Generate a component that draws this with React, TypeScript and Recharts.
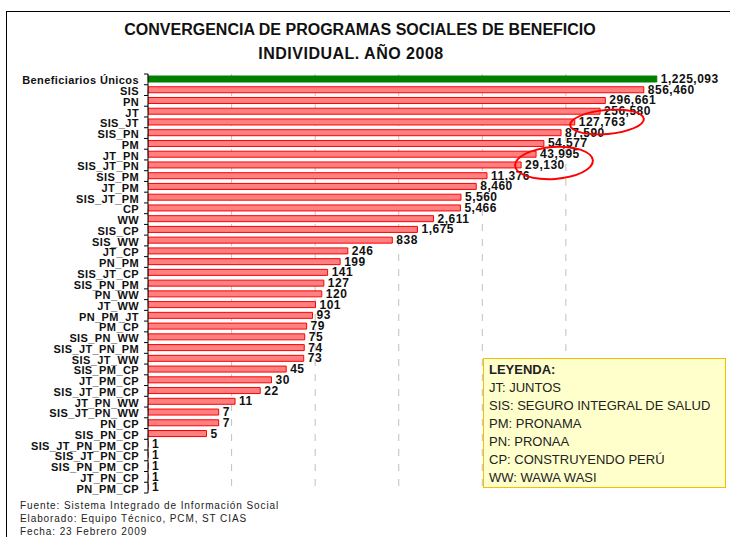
import React from "react";
import {
  BarChart,
  Bar,
  XAxis,
  YAxis,
  CartesianGrid,
  Cell,
  LabelList,
} from "recharts";

const FONT = "'Liberation Sans', Arial, sans-serif";

const categories = [
  "Beneficiarios Únicos",
  "SIS",
  "PN",
  "JT",
  "SIS_JT",
  "SIS_PN",
  "PM",
  "JT_PN",
  "SIS_JT_PN",
  "SIS_PM",
  "JT_PM",
  "SIS_JT_PM",
  "CP",
  "WW",
  "SIS_CP",
  "SIS_WW",
  "JT_CP",
  "PN_PM",
  "SIS_JT_CP",
  "SIS_PN_PM",
  "PN_WW",
  "JT_WW",
  "PN_PM_JT",
  "PM_CP",
  "SIS_PN_WW",
  "SIS_JT_PN_PM",
  "SIS_JT_WW",
  "SIS_PM_CP",
  "JT_PM_CP",
  "SIS_JT_PM_CP",
  "JT_PN_WW",
  "SIS_JT_PN_WW",
  "PN_CP",
  "SIS_PN_CP",
  "SIS_JT_PN_PM_CP",
  "SIS_JT_PN_CP",
  "SIS_PN_PM_CP",
  "JT_PN_CP",
  "PN_PM_CP",
];

const beneficiarios = [
  1225093, 856460, 296661, 256580, 127763, 87590, 54577, 43995, 29130, 11376,
  8460, 5560, 5466, 2611, 1675, 838, 246, 199, 141, 127, 120, 101, 93, 79, 75,
  74, 73, 45, 30, 22, 11, 7, 7, 5, 1, 1, 1, 1, 1,
];

// escala logarítmica: 1 a 10 millones
const logTicks = [1, 10, 100, 1000, 10000, 100000, 1000000, 10000000];

const leyenda = [
  "JT: JUNTOS",
  "SIS: SEGURO INTEGRAL DE SALUD",
  "PM: PRONAMA",
  "PN: PRONAA",
  "CP: CONSTRUYENDO PERÚ",
  "WW: WAWA WASI",
];

const fuente = [
  "Fuente: Sistema Integrado de Información Social",
  "Elaborado: Equipo Técnico, PCM, ST CIAS",
  "Fecha: 23 Febrero 2009",
];

const data = categories.map((name, i) => ({ name, value: beneficiarios[i] }));

const PLOT_TOP = 74;
const PLOT_BOTTOM = 493;
const BAND = (PLOT_BOTTOM - PLOT_TOP) / categories.length;

function CategoryTick(props: any) {
  const { x, y, payload, index } = props;
  const last = index === categories.length - 1;
  return (
    <g>
      <line x1={x - 4} x2={x} y1={y - BAND / 2} y2={y - BAND / 2} stroke="#000" />
      {last && (
        <line x1={x - 4} x2={x} y1={y + BAND / 2} y2={y + BAND / 2} stroke="#000" />
      )}
      <text
        x={x - 9}
        y={y + 1}
        textAnchor="end"
        dominantBaseline="central"
        fontFamily={FONT}
        fontWeight="bold"
        fontSize={11}
        letterSpacing={0.4}
        fill="#111"
      >
        {payload.value}
      </text>
    </g>
  );
}

function ValueLabel(props: any) {
  const { x, y, width, height, value } = props;
  return (
    <text
      x={x + width + 4}
      y={y + height / 2}
      dominantBaseline="central"
      fontFamily={FONT}
      fontWeight="bold"
      fontSize={12}
      letterSpacing={0.5}
      fill="#111"
    >
      {Number(value).toLocaleString("en-US")}
    </text>
  );
}

export default function App() {
  return (
    <div
      style={{
        position: "absolute",
        left: 0,
        top: 0,
        width: 730,
        height: 537,
        overflow: "hidden",
        background: "#fff",
        fontFamily: FONT,
      }}
    >
      {/* marco */}
      <div style={{ position: "absolute", left: 6, top: 11, right: 0, height: 1, background: "#000" }} />
      <div style={{ position: "absolute", left: 6, top: 11, bottom: 0, width: 1, background: "#000" }} />

      <div
        style={{
          position: "absolute",
          left: 0,
          width: 720,
          top: 18,
          textAlign: "center",
          fontWeight: "bold",
          fontSize: 16,
          lineHeight: "24px",
          color: "#111",
        }}
      >
        CONVERGENCIA DE PROGRAMAS SOCIALES DE BENEFICIO
      </div>
      <div
        style={{
          position: "absolute",
          left: 0,
          width: 702,
          top: 42,
          textAlign: "center",
          fontWeight: "bold",
          fontSize: 16,
          letterSpacing: 0.5,
          lineHeight: "24px",
          color: "#111",
        }}
      >
        INDIVIDUAL. AÑO 2008
      </div>

      <div style={{ position: "absolute", left: 0, top: 0 }}>
        <BarChart
          width={741}
          height={537}
          data={data}
          layout="vertical"
          margin={{ top: PLOT_TOP, right: 8, bottom: 537 - PLOT_BOTTOM, left: 8 }}
        >
          <CartesianGrid
            horizontal={false}
            stroke="#c0c0c0"
            strokeDasharray="7 8"
          />
          <XAxis
            type="number"
            scale="log"
            domain={[0.999, 10000000]}
            ticks={logTicks}
            allowDataOverflow
            hide
          />
          <Bar dataKey="value" barSize={6} isAnimationActive={false}>
            {data.map((d, i) => (
              <Cell
                key={d.name}
                fill={i === 0 ? "#008000" : "#ff8080"}
                stroke={i === 0 ? "#008000" : "#ff0000"}
                strokeWidth={1}
              />
            ))}
            <LabelList dataKey="value" content={<ValueLabel />} />
          </Bar>
          <YAxis
            type="category"
            dataKey="name"
            width={140}
            interval={0}
            tickLine={false}
            tickSize={0}
            tickMargin={0}
            axisLine={{ stroke: "#000" }}
            tick={<CategoryTick />}
          />
        </BarChart>
      </div>

      {/* marcas rojas */}
      <div
        style={{
          position: "absolute",
          left: 569,
          top: 109,
          width: 72,
          height: 22,
          border: "2px solid #ff0000",
          borderRadius: "50%",
          transform: "rotate(-5deg)",
        }}
      />
      <div
        style={{
          position: "absolute",
          left: 514,
          top: 146,
          width: 76,
          height: 30,
          border: "2px solid #ff0000",
          borderRadius: "50%",
          transform: "rotate(-4deg)",
        }}
      />

      <div
        style={{
          position: "absolute",
          left: 483,
          top: 358,
          width: 243,
          height: 130,
          background: "#ffffcc",
          border: "1px solid #f2c200",
          padding: "2px 0 0 5px",
          boxSizing: "border-box",
          fontSize: 13,
          lineHeight: "18px",
          color: "#222",
        }}
      >
        <div style={{ fontWeight: "bold" }}>LEYENDA:</div>
        {leyenda.map((t) => (
          <div key={t}>{t}</div>
        ))}
      </div>

      <div
        style={{
          position: "absolute",
          left: 20,
          top: 499,
          fontSize: 10,
          lineHeight: "13px",
          letterSpacing: 0.9,
          color: "#222",
        }}
      >
        {fuente.map((t) => (
          <div key={t}>{t}</div>
        ))}
      </div>
    </div>
  );
}
